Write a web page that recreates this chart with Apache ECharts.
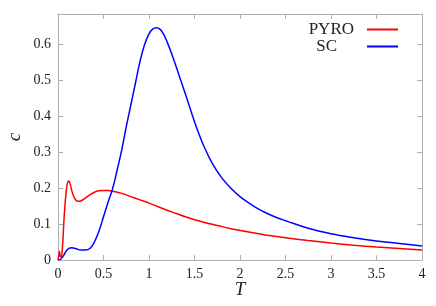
<!DOCTYPE html>
<html><head><meta charset="utf-8">
<script src="https://cdn.jsdelivr.net/npm/echarts@6/dist/echarts.min.js"></script>
<style>html,body{margin:0;padding:0;background:#fff}#c{width:436px;height:306px}</style>
</head><body><div id="c"></div>
<script>
const seriesNames = ['PYRO', 'SC'];
const tPyro = [0, 0.01, 0.015, 0.025, 0.035, 0.05, 0.07, 0.09, 0.105, 0.12, 0.135, 0.16, 0.19, 0.22, 0.25, 0.3, 0.35, 0.4, 0.45, 0.5, 0.55, 0.6, 0.7, 0.8, 0.9, 1.0, 1.1, 1.2, 1.3, 1.4, 1.5, 1.6, 1.75, 1.9, 2.0, 2.25, 2.5, 2.75, 3.0, 3.25, 3.5, 3.75, 4.0];
const cPyro = [0, 0.015, 0.024, 0.01, 0.008, 0.04, 0.13, 0.19, 0.214, 0.219, 0.21, 0.185, 0.168, 0.163, 0.164, 0.172, 0.181, 0.188, 0.192, 0.193, 0.193, 0.191, 0.185, 0.176, 0.167, 0.158, 0.148, 0.138, 0.129, 0.12, 0.112, 0.105, 0.096, 0.087, 0.082, 0.071, 0.062, 0.054, 0.047, 0.041, 0.036, 0.032, 0.028];
const tSC = [0, 0.03, 0.06, 0.09, 0.12, 0.15, 0.2, 0.25, 0.3, 0.35, 0.4, 0.45, 0.5, 0.55, 0.6, 0.65, 0.7, 0.75, 0.8, 0.85, 0.9, 0.95, 1.0, 1.04, 1.08, 1.12, 1.16, 1.2, 1.25, 1.3, 1.35, 1.4, 1.45, 1.5, 1.55, 1.6, 1.7, 1.8, 1.9, 2.0, 2.1, 2.2, 2.3, 2.4, 2.5, 2.75, 3.0, 3.25, 3.5, 3.75, 4.0];
const cSC = [0, 0.002, 0.012, 0.025, 0.032, 0.034, 0.031, 0.028, 0.028, 0.032, 0.05, 0.08, 0.12, 0.16, 0.198, 0.25, 0.305, 0.37, 0.43, 0.49, 0.55, 0.597, 0.628, 0.641, 0.645, 0.641, 0.627, 0.605, 0.572, 0.536, 0.498, 0.461, 0.422, 0.384, 0.349, 0.318, 0.266, 0.228, 0.199, 0.176, 0.158, 0.142, 0.129, 0.118, 0.109, 0.088, 0.073, 0.062, 0.053, 0.046, 0.039];
const xTicks = [0, 0.5, 1, 1.5, 2, 2.5, 3, 3.5, 4];
const yTicks = [0, 0.1, 0.2, 0.3, 0.4, 0.5, 0.6];

const zip = (a, b) => a.map((v, i) => [v, b[i]]);
const grey = '#b0b0b0';
const font = '"Liberation Serif", "DejaVu Serif", serif';
const baseX = {
  type: 'value', min: 0, max: 4, interval: 0.5,
  axisLine: { show: true, onZero: false, lineStyle: { color: grey, width: 1 } },
  axisTick: { show: true, inside: true, length: 5, lineStyle: { color: grey } },
  splitLine: { show: false }
};
const baseY = {
  type: 'value', min: 0, max: 0.683, interval: 0.1,
  axisLine: { show: true, onZero: false, lineStyle: { color: grey, width: 1 } },
  axisTick: { show: true, inside: true, length: 5, lineStyle: { color: grey } },
  splitLine: { show: false }
};
const chart = echarts.init(document.getElementById('c'));
chart.setOption({
  animation: false,
  backgroundColor: '#fff',
  grid: { left: 58, right: 14, top: 14, bottom: 46, containLabel: false, outerBoundsMode: 'none' },
  legend: [
    { data: [seriesNames[0]], right: 33, top: 16, align: 'right', itemWidth: 31, itemHeight: 2, icon: 'rect',
      textStyle: { fontFamily: font, fontSize: 17, color: '#222', padding: [0, 8, 0, 0] } },
    { data: [seriesNames[1]], right: 33, top: 33, align: 'right', itemWidth: 31, itemHeight: 2, icon: 'rect',
      textStyle: { fontFamily: font, fontSize: 17, color: '#222', padding: [0, 25, 0, 0] } }
  ],
  xAxis: [
    Object.assign({}, baseX, {
      position: 'bottom',
      name: 'T', nameLocation: 'middle', nameGap: 20, nameMoveOverlap: false,
      nameTextStyle: { fontFamily: font, fontStyle: 'italic', fontSize: 19, color: '#222' },
      axisLabel: { show: true, margin: 7, fontFamily: font, fontSize: 14, color: '#222',
        formatter: v => xTicks.includes(v) ? String(v) : '' }
    }),
    Object.assign({}, baseX, { position: 'top', axisLabel: { show: false } })
  ],
  yAxis: [
    Object.assign({}, baseY, {
      position: 'left',
      name: 'c', nameLocation: 'middle', nameGap: 34, nameRotate: 90, nameMoveOverlap: false,
      nameTextStyle: { fontFamily: font, fontStyle: 'italic', fontSize: 19, color: '#222' },
      axisLabel: { show: true, margin: 7, fontFamily: font, fontSize: 14, color: '#222', showMaxLabel: false,
        formatter: v => { const r = Math.round(v * 10) / 10; return yTicks.includes(r) && Math.abs(r - v) < 1e-6 ? String(r) : ''; } }
    }),
    Object.assign({}, baseY, { position: 'right', axisLabel: { show: false } })
  ],
  series: [
    { name: seriesNames[0], type: 'line', data: zip(tPyro, cPyro), smooth: 0.4, showSymbol: false,
      lineStyle: { color: '#ff0000', width: 1.5 }, itemStyle: { color: '#ff0000' } },
    { name: seriesNames[1], type: 'line', data: zip(tSC, cSC), smooth: 0.4, showSymbol: false,
      lineStyle: { color: '#0000ff', width: 1.5 }, itemStyle: { color: '#0000ff' } }
  ]
});
</script></body></html>
